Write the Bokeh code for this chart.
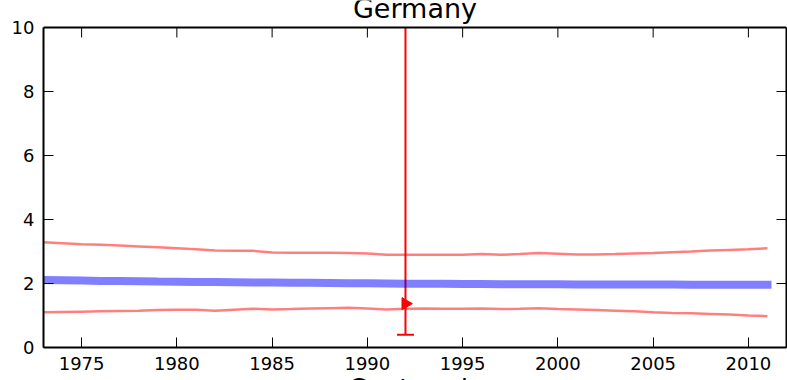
import math
from bokeh.plotting import figure
from bokeh.models import (LinearAxis, FixedTicker, CustomJSTickFormatter, Label,
                          Range1d, ColumnDataSource, Whisker, TeeHead, Span, Title)
from bokeh.embed import file_html
from bokeh.resources import INLINE

# ---- data ----
years = list(range(1973, 2012))
central = [2.11, 2.10, 2.09, 2.08, 2.075, 2.07, 2.06, 2.055, 2.05, 2.045,
           2.04, 2.035, 2.03, 2.025, 2.02, 2.015, 2.01, 2.005, 2.0, 1.995,
           1.99, 1.99, 1.985, 1.985, 1.98, 1.98, 1.975, 1.975, 1.97, 1.97,
           1.97, 1.965, 1.965, 1.965, 1.96, 1.96, 1.96, 1.96, 1.96]
upper_band = [3.29, 3.26, 3.23, 3.21, 3.19, 3.16, 3.13, 3.10, 3.07, 3.03,
              3.02, 3.02, 2.97, 2.96, 2.96, 2.96, 2.95, 2.94, 2.90, 2.90,
              2.90, 2.90, 2.90, 2.92, 2.90, 2.92, 2.95, 2.93, 2.91, 2.91,
              2.92, 2.94, 2.95, 2.98, 3.00, 3.03, 3.05, 3.07, 3.10]
lower_band = [1.10, 1.11, 1.12, 1.13, 1.14, 1.15, 1.17, 1.18, 1.18, 1.15,
              1.18, 1.21, 1.19, 1.20, 1.22, 1.23, 1.24, 1.22, 1.19, 1.21,
              1.22, 1.21, 1.21, 1.22, 1.20, 1.21, 1.23, 1.20, 1.19, 1.17,
              1.15, 1.13, 1.10, 1.08, 1.07, 1.05, 1.03, 1.00, 0.98]
obs_year = [1992]
obs_value = [1.37]
obs_low = [0.4]
obs_high = [10.0]
x_ticks = [1975, 1980, 1985, 1990, 1995, 2000, 2005, 2010]
y_ticks = [0, 2, 4, 6, 8, 10]
x_lim = (1973, 2012)
y_lim = (0, 10)
title_text = "Germany"
xlabel_text = "Centered"

FONT = "DejaVu Sans"
W, H = 787, 380
LEFT, RIGHT, TOP, BOTTOM = 43, 1, 27, 33   # px around the axes box
TICK = 10                                   # tick length, px

# The plot frame reaches the top edge so that the title can sit there;
# the axes box itself is drawn from y_lim.
px_per_unit = (H - TOP - BOTTOM) / (y_lim[1] - y_lim[0])
y_top = y_lim[1] + TOP / px_per_unit

p = figure(width=W, height=H, output_backend="svg", toolbar_location=None,
           x_range=Range1d(*x_lim), y_range=Range1d(y_lim[0], y_top),
           min_border_left=LEFT, min_border_right=RIGHT, min_border_top=0,
           min_border_bottom=BOTTOM)
p.background_fill_color = "white"
p.border_fill_color = "white"
p.xgrid.visible = False
p.ygrid.visible = False
p.outline_line_color = None

def style_axis(ax, ticks, show_labels, standoff, bounds=None):
    ax.ticker = FixedTicker(ticks=ticks)
    ax.axis_line_color = "black"
    ax.axis_line_width = 2
    if bounds is not None:
        ax.bounds = bounds
    ax.major_tick_in = TICK
    ax.major_tick_out = 0
    ax.major_tick_line_color = "black"
    ax.major_tick_line_width = 1
    ax.minor_tick_line_color = None
    ax.major_label_text_font = FONT
    ax.major_label_text_font_size = "18px"
    ax.major_label_text_color = "black"
    ax.major_label_standoff = standoff
    if not show_labels:
        ax.formatter = CustomJSTickFormatter(code="return ''")
        ax.major_label_standoff = 0

style_axis(p.xaxis[0], x_ticks, True, 9)
style_axis(p.yaxis[0], y_ticks, True, 9, bounds=y_lim)
rax = LinearAxis()
style_axis(rax, y_ticks, False, 0, bounds=y_lim)
p.add_layout(rax, "right")

# top edge of the axes box with inward ticks
p.add_layout(Span(location=y_lim[1], dimension="width", line_color="black",
                  line_width=2))
tick_len = TICK / px_per_unit
p.segment(x0=x_ticks, y0=[y_lim[1]] * len(x_ticks), x1=x_ticks,
          y1=[y_lim[1] - tick_len] * len(x_ticks), line_color="black",
          line_width=1)

# bands
p.line(years, upper_band, line_color="red", line_alpha=0.5, line_width=2.5)
p.line(years, lower_band, line_color="red", line_alpha=0.5, line_width=2.5)

# observation error bar
src = ColumnDataSource(dict(x=obs_year, y=obs_value, lo=obs_low, hi=obs_high))
wh = Whisker(source=src, base="x", lower="lo", upper="hi", dimension="height",
             line_color="red", line_width=2,
             lower_head=TeeHead(size=17, line_color="red", line_width=2),
             upper_head=None, level="underlay")
p.add_layout(wh)

# central line
p.line(years, central, line_color="blue", line_alpha=0.5, line_width=8,
       line_cap="square")

# marker
p.scatter("x", "y", source=src, marker="triangle", angle=-math.pi / 2,
          size=12, fill_color="red", line_color="red")

# title (partly above the page, as in the reference)
p.add_layout(Label(x=sum(x_lim) / 2, y=y_lim[1], y_offset=19, text=title_text,
                   text_align="center", text_baseline="alphabetic",
                   text_font=FONT, text_font_size="27px", text_color="black"))

# x label (mostly below the page, as in the reference)
p.add_layout(Title(text="\n" + xlabel_text, align="left", offset=305,
                   vertical_align="bottom", standoff=-63, text_font=FONT,
                   text_font_size="26px", text_font_style="normal",
                   text_color="black"), "below")

open("out.html", "w").write(file_html(p, INLINE))
